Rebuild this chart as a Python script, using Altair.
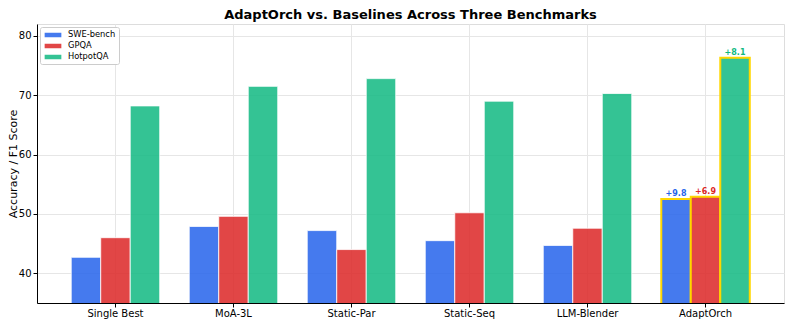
import altair as alt
import pandas as pd

models = ["Single Best", "MoA-3L", "Static-Par", "Static-Seq", "LLM-Blender", "AdaptOrch"]
benchmarks = ["SWE-bench", "GPQA", "HotpotQA"]
swe = [42.7, 47.9, 47.2, 45.5, 44.7, 52.5]
gpqa = [46.0, 49.6, 44.0, 50.2, 47.6, 52.9]
hotpot = [68.2, 71.5, 72.8, 69.0, 70.3, 76.3]
gain_labels = ["+9.8", "+6.9", "+8.1"]
colors = ["#2563eb", "#dc2626", "#10b981"]

rows = []
for i, m in enumerate(models):
    for b, vals in zip(benchmarks, [swe, gpqa, hotpot]):
        rows.append({"model": m, "bench": b, "value": vals[i]})
df = pd.DataFrame(rows)

lab = pd.DataFrame({
    "model": ["AdaptOrch"] * 3,
    "bench": benchmarks,
    "value": [swe[-1], gpqa[-1], hotpot[-1]],
    "label": gain_labels,
})

FONT = "DejaVu Sans"

x = alt.X("model:N", sort=models, title=None,
          scale=alt.Scale(paddingInner=0.25, paddingOuter=0.29),
          axis=alt.Axis(labelAngle=0, labelFontSize=10, labelColor="#000", labelFont=FONT,
                        grid=True, gridColor="#e6e6e6", gridWidth=1, bandPosition=0.5,
                        domainColor="#000", tickColor="#000", tickSize=4, labelPadding=1))
xo = alt.XOffset("bench:N", sort=benchmarks)
y = alt.Y("value:Q", title="Accuracy / F1 Score",
          scale=alt.Scale(domain=[35, 82], zero=False, nice=False),
          axis=alt.Axis(values=[40, 50, 60, 70, 80], labelFontSize=10, labelColor="#000",
                        labelFont=FONT, titleFont=FONT, titleFontSize=11, titleFontWeight="normal",
                        titleColor="#000", gridColor="#e6e6e6", domainColor="#000",
                        tickColor="#000", tickSize=4, titlePadding=0, labelPadding=2))
color = alt.Color("bench:N", sort=benchmarks,
                  scale=alt.Scale(domain=benchmarks, range=colors),
                  legend=alt.Legend(title=None, orient="top-left", offset=3,
                                    labelFont=FONT, labelFontSize=8.3, labelColor="#000",
                                    symbolType="M-1.67,-0.45L1.67,-0.45L1.67,0.45L-1.67,0.45Z",
                                    symbolSize=100, symbolOpacity=0.85, symbolStrokeWidth=0,
                                    symbolOffset=5, strokeColor="#cccccc", fillColor="white",
                                    padding=3, rowPadding=2, labelOffset=10, cornerRadius=2))

is_ao = alt.datum.model == "AdaptOrch"

bars = alt.Chart(df).mark_bar(clip=True, fillOpacity=0.85).encode(
    x=x, xOffset=xo, y=y, color=color,
    stroke=alt.condition(is_ao, alt.value("#FFD700"), alt.value("white")),
    strokeWidth=alt.condition(is_ao, alt.value(2), alt.value(0.8)),
)

texts = alt.Chart(lab).mark_text(dy=-1, fontSize=8, fontWeight="bold", font=FONT,
                                  baseline="bottom").encode(
    x=alt.X("model:N", sort=models, scale=alt.Scale(paddingInner=0.25, paddingOuter=0.29)),
    xOffset=xo, y=alt.Y("value:Q"), text="label:N",
    color=alt.Color("bench:N", sort=benchmarks, scale=alt.Scale(domain=benchmarks, range=colors),
                    legend=None),
)

chart = alt.layer(bars, texts).properties(
    width=747, height=279,
    title=alt.Title("AdaptOrch vs. Baselines Across Three Benchmarks", font=FONT, fontSize=13,
                    fontWeight="bold", color="#000", anchor="middle", offset=2, frame="group"),
    autosize=alt.AutoSizeParams(type="none"),
    padding={"left": 29, "top": 16, "right": 1, "bottom": 22},
).configure_view(stroke="#000", strokeWidth=1).configure(background="white")

chart.save("out.html", embed_options={"renderer": "svg", "actions": False})
